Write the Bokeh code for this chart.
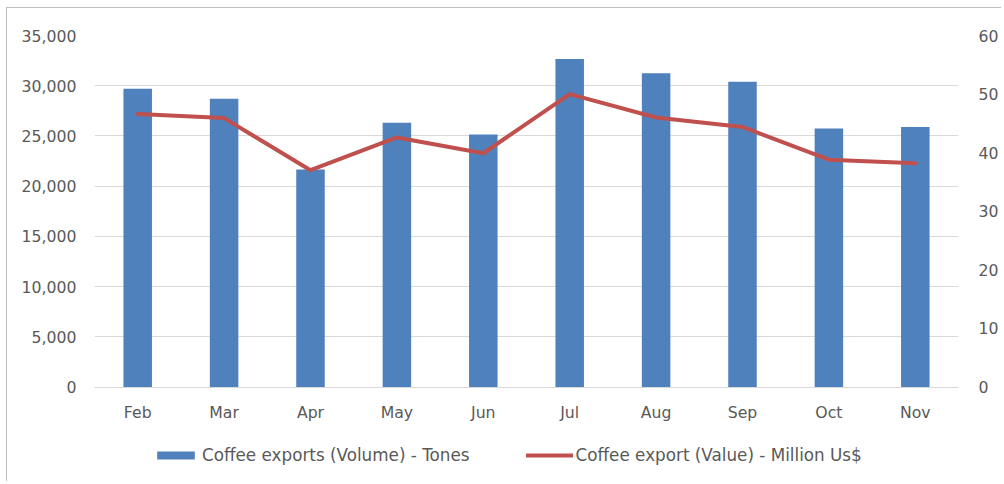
from bokeh.plotting import figure
from bokeh.models import (ColumnDataSource, FactorRange, Range1d, LinearAxis, Legend,
                          LegendItem, NumeralTickFormatter, FixedTicker)
from bokeh.embed import file_html
from bokeh.resources import INLINE

months = ["Feb", "Mar", "Apr", "May", "Jun", "Jul", "Aug", "Sep", "Oct", "Nov"]
volume_tones = [29700, 28700, 21650, 26300, 25150, 32650, 31250, 30400, 25750, 25900]
value_musd = [46.6, 45.9, 37.0, 42.6, 39.9, 50.0, 46.0, 44.4, 38.8, 38.2]
left_ticks = [0, 5000, 10000, 15000, 20000, 25000, 30000, 35000]
right_ticks = [0, 10, 20, 30, 40, 50, 60]
left_max = 35000
right_max = 60

BAR = "#4F81BD"
LINE = "#C0504D"
TXT = "#595959"
GRID = "#D9D9D9"
FONT = "DejaVu Sans"
FS = "15.7px"

# layout (pixels): frame spans 443 px; value 0 sits 91.5 px above frame bottom
FRAME_H = 443.0
ZERO_OFF = 91.5
frac = ZERO_OFF / (FRAME_H - ZERO_OFF)

src = ColumnDataSource(dict(month=months, vol=volume_tones, val=value_musd))

p = figure(x_range=FactorRange(factors=months, range_padding=0),
           y_range=Range1d(-left_max * frac, left_max),
           width=995, height=474, output_backend="svg", toolbar_location=None,
           min_border_left=87, min_border_right=44, min_border_top=27, min_border_bottom=4,
           styles={"margin-left": "7px", "margin-top": "8px",
                   "box-shadow": "-1px -1px 0 0 #BFBFBF"})
p.outline_line_color = None
p.extra_y_ranges = {"right": Range1d(-right_max * frac, right_max)}

bars = p.vbar(x="month", top="vol", width=0.33, source=src, fill_color=BAR, line_color=None)
line = p.line(x="month", y="val", source=src, y_range_name="right",
              line_color=LINE, line_width=4, line_join="round", line_cap="round")

# axes styling
p.xaxis.fixed_location = 0
p.xaxis.axis_line_color = GRID
p.xaxis.major_tick_line_color = None
p.xaxis.minor_tick_line_color = None
p.xaxis.major_label_standoff = 10
p.xaxis.major_label_text_font = FONT
p.xaxis.major_label_text_font_size = FS
p.xaxis.major_label_text_color = TXT

p.yaxis.ticker = FixedTicker(ticks=left_ticks)
p.yaxis.formatter = NumeralTickFormatter(format="0,0")
p.yaxis.axis_line_color = None
p.yaxis.major_tick_line_color = None
p.yaxis.minor_tick_line_color = None
p.yaxis.major_label_standoff = 12
p.yaxis.major_label_text_font = FONT
p.yaxis.major_label_text_font_size = FS
p.yaxis.major_label_text_color = TXT

ra = LinearAxis(y_range_name="right", ticker=FixedTicker(ticks=right_ticks))
ra.axis_line_color = None
ra.major_tick_line_color = None
ra.minor_tick_line_color = None
ra.major_label_standoff = 14
ra.major_label_text_font = FONT
ra.major_label_text_font_size = FS
ra.major_label_text_color = TXT
p.add_layout(ra, "right")

p.xgrid.grid_line_color = None
p.ygrid.grid_line_color = GRID
p.ygrid.grid_line_width = 1

legend = Legend(items=[LegendItem(label="Coffee exports (Volume) - Tones", renderers=[bars]),
                       LegendItem(label="Coffee export (Value) - Million Us$", renderers=[line])],
                orientation="horizontal", location=(58, 13),
                glyph_width=47, glyph_height=10, label_standoff=3, spacing=56,
                padding=0, margin=0, border_line_alpha=0, background_fill_alpha=0,
                label_text_font=FONT, label_text_font_size="16.8px", label_text_color=TXT,
                label_height=10)
p.add_layout(legend)

open("out.html", "w").write(file_html(p, INLINE))
